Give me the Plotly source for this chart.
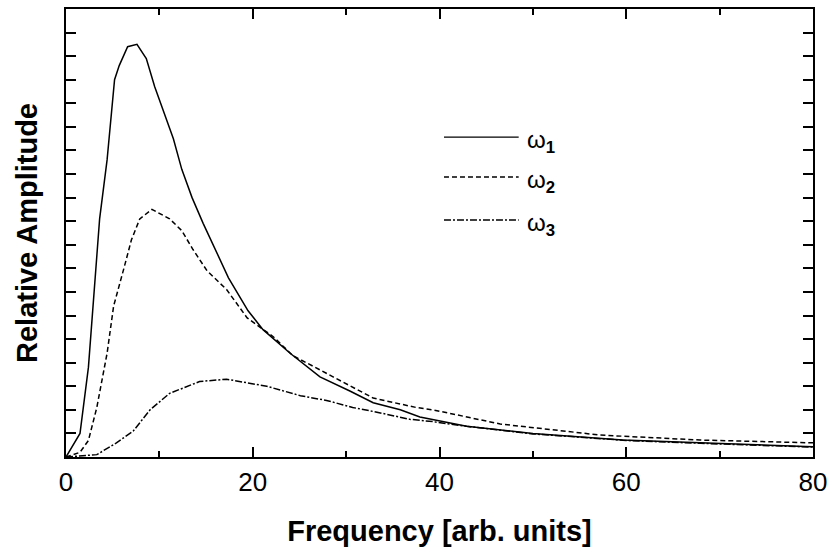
import plotly.graph_objects as go

# ---- data ----
freq1 = [0, 1.5, 2.4, 3.2, 3.6, 4.4, 5.2, 5.7, 6.6, 7.6, 8.6, 9.5, 10.4, 11.5, 12.4, 13.5, 14.7,
         16.1, 17.4, 19.5, 21.1, 24.0, 27.2, 30.4, 32.9, 35.8, 37.9, 42.9, 50.0, 59.6, 67.9, 80.0]
amp1 = [0, 1.0, 3.8, 7.9, 10.1, 12.6, 16.0, 16.6, 17.4, 17.5, 16.9, 15.7, 14.7, 13.5, 12.2, 11.0, 9.9,
        8.7, 7.6, 6.2, 5.4, 4.4, 3.4, 2.8, 2.3, 2.0, 1.7, 1.3, 1.0, 0.72, 0.6, 0.43]

freq2 = [0, 1.5, 2.4, 3.3, 4.4, 5.1, 6.2, 7.0, 7.9, 9.2, 11.1, 12.4, 13.6, 15.1, 17.2, 19.4, 22.2,
         24.3, 28.6, 32.9, 37.5, 39.3, 46.5, 57.2, 67.9, 80.0]
amp2 = [0, 0.2, 0.7, 2.1, 4.4, 6.4, 8.0, 9.2, 10.1, 10.5, 10.1, 9.6, 8.8, 7.9, 7.1, 5.9, 5.1,
        4.3, 3.4, 2.5, 2.1, 2.0, 1.4, 0.93, 0.72, 0.6]

freq3 = [0, 3.3, 5.4, 7.2, 9.0, 11.1, 14.3, 17.2, 21.5, 25.1, 27.9, 30.7, 33.3, 36.8, 39.3, 42.9,
         50.0, 60.0, 68.0, 80.0]
amp3 = [0, 0.1, 0.6, 1.1, 2.0, 2.7, 3.2, 3.3, 3.0, 2.6, 2.4, 2.1, 1.9, 1.6, 1.5, 1.3,
        0.98, 0.7, 0.58, 0.42]

series_names = ["ω<sub><b>1</b></sub>", "ω<sub><b>2</b></sub>", "ω<sub><b>3</b></sub>"]
x_ticks = [0, 20, 40, 60, 80]

x_title = "Frequency [arb. units]"
y_title = "Relative Amplitude"

# ---- figure ----
FONT = "Liberation Sans, Arial, Helvetica, sans-serif"
dashes = ["solid", "5px,3px", "7px,2px,2px,2px"]

fig = go.Figure()
for xs, ys, name, d in zip([freq1, freq2, freq3], [amp1, amp2, amp3], series_names, dashes):
    fig.add_trace(go.Scatter(x=xs, y=ys, mode="lines", name=name, showlegend=False,
                             line=dict(color="black", width=1.5, dash=d)))

# legend drawn as a key block
leg_y = [0.714, 0.625, 0.529]
for name, d, yy in zip(series_names, dashes, leg_y):
    fig.add_shape(type="line", xref="paper", yref="paper", x0=0.506, x1=0.606, y0=yy, y1=yy,
                  line=dict(color="black", width=1.3, dash=d))
    fig.add_annotation(xref="paper", yref="paper", x=0.614, y=yy - 0.01, xanchor="left",
                       yanchor="middle", text=name, showarrow=False,
                       font=dict(family=FONT, size=24, color="black"))

fig.update_layout(
    width=831, height=552,
    margin=dict(l=66, r=18, t=9, b=95, autoexpand=False),
    paper_bgcolor="white", plot_bgcolor="white",
    font=dict(family=FONT, color="black"),
)
fig.update_xaxes(
    range=[0, 80], tickvals=x_ticks, ticks="inside", ticklen=10, tickwidth=2,
    tickcolor="black", showline=True, linecolor="black", linewidth=2, mirror="allticks",
    showgrid=False, zeroline=False, tickfont=dict(size=26, family=FONT), ticklabelstandoff=1,
    minor=dict(tickvals=[10, 30, 50, 70], ticks="inside", ticklen=6, tickwidth=1.5, tickcolor="black"),
    title=dict(text="<b>" + x_title + "</b>", font=dict(size=29, family=FONT), standoff=24),
    automargin=False,
)
fig.update_yaxes(
    range=[0, 19], dtick=1, tick0=0, ticks="inside", ticklen=10, tickwidth=1.8,
    tickcolor="black", showticklabels=False, showline=True, linecolor="black", linewidth=2,
    mirror="allticks", showgrid=False, zeroline=False,
    title=dict(text="<b>" + y_title + "</b>", font=dict(size=29, family=FONT), standoff=18),
    automargin=False,
)

fig.write_html("out.html", config={"displayModeBar": False},
               post_script="document.body.style.margin='0';document.body.style.overflow='hidden';")
